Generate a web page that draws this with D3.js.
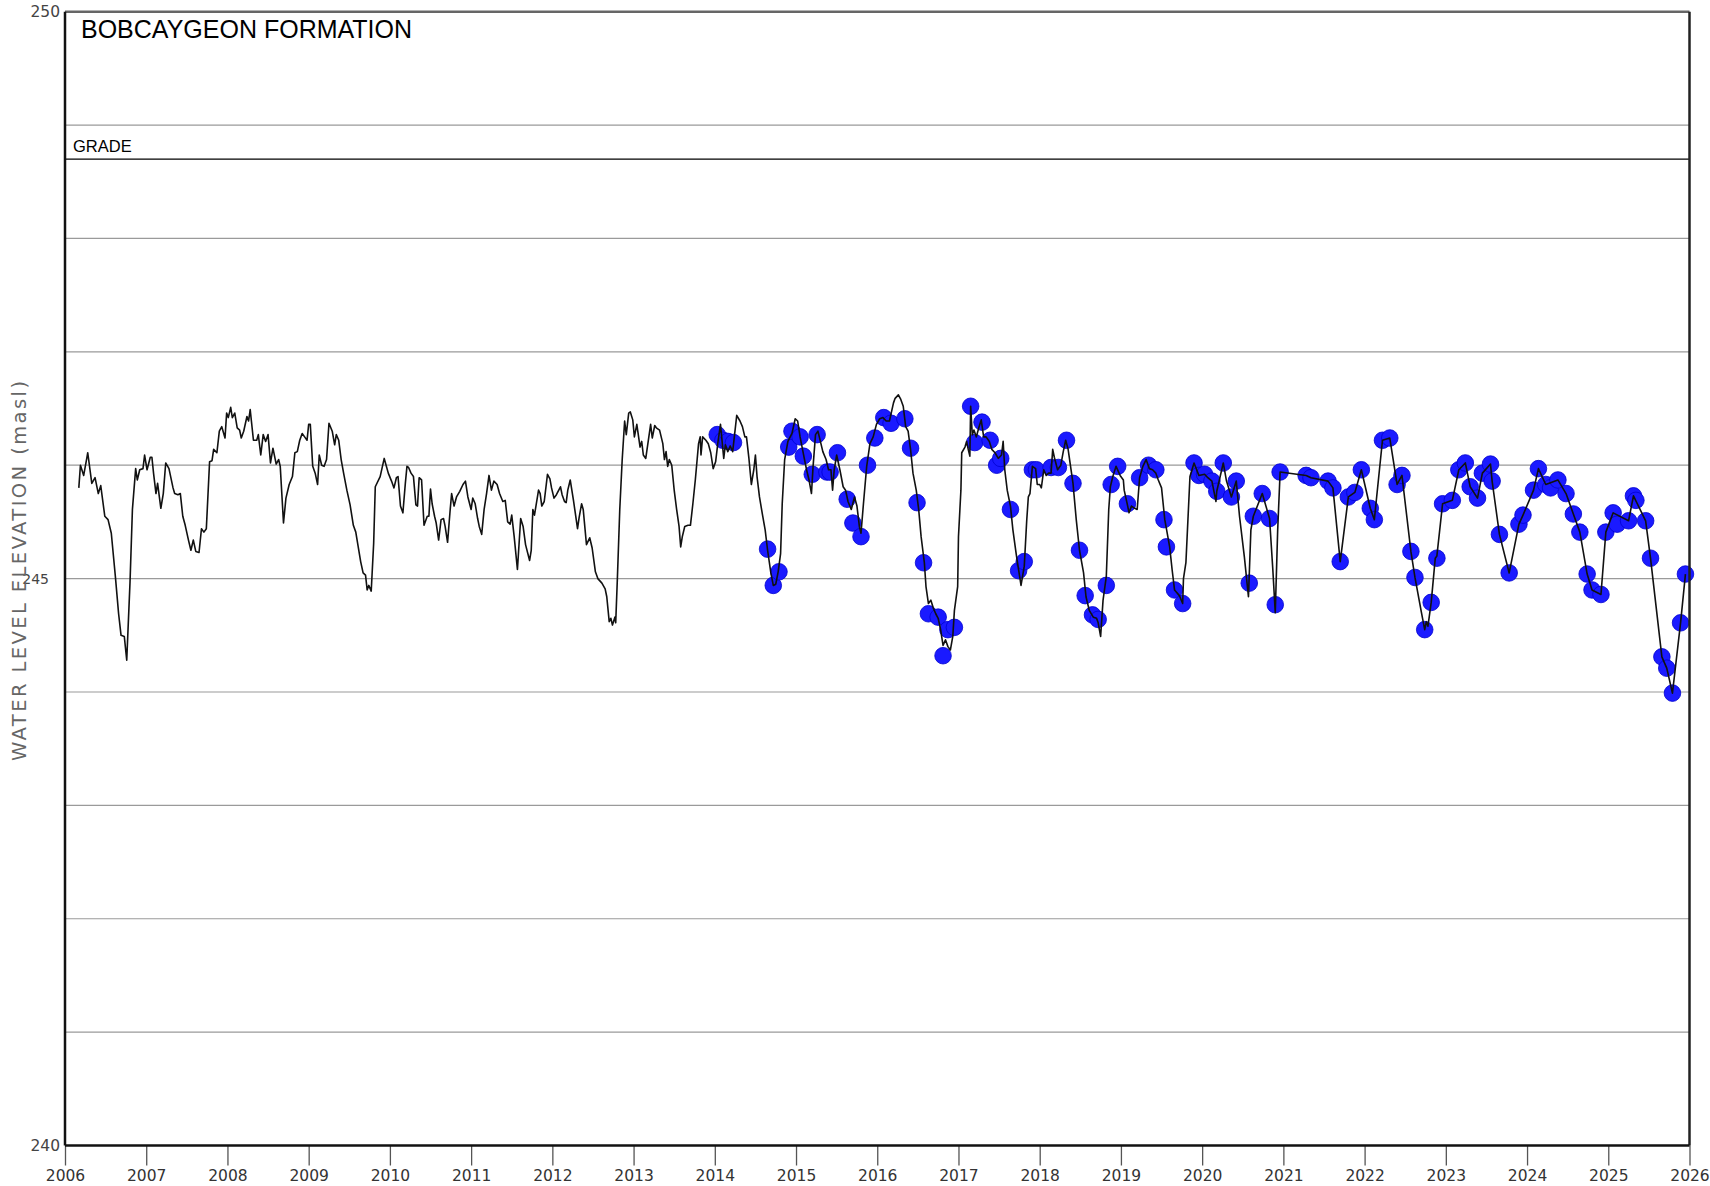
<!DOCTYPE html>
<html>
<head>
<meta charset="utf-8">
<script src="https://cdn.jsdelivr.net/npm/d3@7"></script>
<style>
  body { margin: 0; background: #fff; }
  svg { display: block; }
</style>
</head>
<body>
<script>
// logger record (decimal year, masl)
const logger2006 = [
  [2006.17,245.80],[2006.19,246.00],[2006.23,245.91],[2006.27,246.07],[2006.28,246.11],[2006.33,245.84],[2006.37,245.89],[2006.41,245.75],
  [2006.44,245.82],[2006.49,245.55],[2006.53,245.52],[2006.57,245.40],[2006.62,245.02],[2006.66,244.69],[2006.69,244.50],[2006.73,244.49],
  [2006.76,244.28],[2006.80,244.96],[2006.83,245.61],[2006.87,245.97],[2006.89,245.87],[2006.92,245.96],[2006.96,245.97],[2006.98,246.09],
  [2007.01,245.96],[2007.05,246.07],[2007.07,246.07],[2007.09,245.93],[2007.12,245.75],[2007.14,245.84],[2007.18,245.62],[2007.21,245.75],
  [2007.24,246.02],[2007.28,245.97],[2007.33,245.80],[2007.35,245.75],[2007.39,245.74],[2007.42,245.75],[2007.45,245.55],[2007.48,245.47],
  [2007.52,245.34],[2007.55,245.25],[2007.58,245.34],[2007.61,245.24],[2007.65,245.23],[2007.68,245.44],[2007.71,245.41],[2007.74,245.44],
  [2007.78,246.03],[2007.81,246.04],[2007.83,246.14],[2007.87,246.11],[2007.90,246.30],[2007.93,246.34],[2007.97,246.24],[2007.99,246.46],
  [2008.01,246.42],[2008.04,246.51],[2008.06,246.42],[2008.09,246.46],[2008.12,246.33],[2008.15,246.31],[2008.17,246.24],[2008.20,246.30],
  [2008.24,246.43],[2008.26,246.39],[2008.28,246.49],[2008.32,246.22],[2008.36,246.22],[2008.38,246.27],[2008.41,246.09],[2008.44,246.27],
  [2008.47,246.21],[2008.50,246.27],[2008.53,246.02],[2008.56,246.15],[2008.60,246.01],[2008.63,246.05],[2008.65,245.99],[2008.69,245.49],
  [2008.72,245.71],[2008.76,245.83],[2008.80,245.90],[2008.83,246.11],[2008.86,246.12],[2008.89,246.22],[2008.92,246.28],[2008.95,246.25],
  [2008.98,246.22],[2009.00,246.36],[2009.02,246.36],[2009.05,245.99],[2009.08,245.93],[2009.11,245.83],[2009.13,246.09],[2009.16,246.00],
  [2009.19,245.99],[2009.22,246.05],[2009.25,246.37],[2009.29,246.30],[2009.32,246.18],[2009.34,246.27],[2009.37,246.22]
];

const logger2009 = [
  [2009.40,246.05],[2009.43,245.93],[2009.47,245.78],[2009.51,245.65],[2009.55,245.47],[2009.58,245.41],[2009.61,245.28],[2009.64,245.15],
  [2009.67,245.05],[2009.70,245.03],[2009.72,244.90],[2009.74,244.94],[2009.77,244.89],[2009.80,245.31],[2009.82,245.81],[2009.88,245.90],
  [2009.93,246.06],[2009.98,245.93],[2010.02,245.86],[2010.05,245.80],[2010.08,245.89],[2010.10,245.90],[2010.13,245.64],[2010.16,245.58],
  [2010.19,245.84],[2010.21,245.99],[2010.23,245.98],[2010.26,245.93],[2010.29,245.90],[2010.32,245.65],[2010.34,245.64],[2010.36,245.89],
  [2010.39,245.87],[2010.42,245.47],[2010.46,245.55],[2010.48,245.55],[2010.50,245.79],[2010.52,245.66],[2010.55,245.55],[2010.57,245.49],
  [2010.60,245.34],[2010.63,245.52],[2010.66,245.53],[2010.68,245.46],[2010.71,245.32],[2010.74,245.59],[2010.76,245.75],[2010.79,245.64],
  [2010.82,245.72],[2010.86,245.77],[2010.90,245.83],[2010.93,245.86],[2010.96,245.72],[2011.00,245.61],[2011.02,245.71],[2011.05,245.66],
  [2011.08,245.53],[2011.10,245.46],[2011.13,245.39],[2011.16,245.61],[2011.19,245.75],[2011.22,245.91],[2011.25,245.78],[2011.28,245.86],
  [2011.32,245.83],[2011.35,245.75],[2011.39,245.68],[2011.42,245.69],[2011.45,245.50],[2011.48,245.48],[2011.50,245.56],[2011.53,245.37],
  [2011.57,245.08],[2011.61,245.53],[2011.64,245.46],[2011.67,245.30],[2011.72,245.16],[2011.74,245.25],[2011.76,245.61],[2011.78,245.56],
  [2011.83,245.78],[2011.85,245.75],[2011.87,245.64],[2011.90,245.68],[2011.94,245.92],[2011.97,245.88],[2011.99,245.80],[2012.02,245.71],
  [2012.05,245.74],[2012.10,245.81],[2012.12,245.74],[2012.15,245.68],[2012.17,245.67],[2012.19,245.78],[2012.22,245.87],[2012.26,245.69],
  [2012.28,245.59],[2012.31,245.44],[2012.33,245.54],[2012.36,245.66],[2012.38,245.61],[2012.42,245.30],[2012.46,245.36],[2012.49,245.27],
  [2012.53,245.06],[2012.56,245.00],[2012.61,244.96],[2012.65,244.91],[2012.67,244.84],[2012.70,244.62],[2012.72,244.65],[2012.74,244.59],
  [2012.77,244.66]
];

const logger2012 = [
  [2012.78,244.61],[2012.80,244.99],[2012.83,245.61],[2012.86,246.05],[2012.89,246.39],[2012.91,246.27],[2012.94,246.46],[2012.96,246.47],
  [2012.99,246.40],[2013.01,246.25],[2013.04,246.36],[2013.08,246.16],[2013.10,246.21],[2013.12,246.09],[2013.15,246.06],[2013.18,246.21],
  [2013.21,246.36],[2013.23,246.24],[2013.26,246.35],[2013.28,246.33],[2013.32,246.31],[2013.36,246.19],[2013.38,246.05],[2013.40,246.12],
  [2013.42,245.99],[2013.44,246.05],[2013.47,246.00],[2013.50,245.78],[2013.53,245.61],[2013.56,245.46],[2013.58,245.28],[2013.60,245.37],
  [2013.63,245.46],[2013.67,245.47],[2013.70,245.47],[2013.73,245.66],[2013.76,245.87],[2013.80,246.19],[2013.82,246.25],[2013.83,246.09],
  [2013.85,246.25],[2013.89,246.22],[2013.92,246.19],[2013.95,246.11],[2013.98,245.97],[2014.01,246.03],[2014.04,246.21],[2014.07,246.36],
  [2014.09,246.21],[2014.11,246.06],[2014.13,246.18],[2014.16,246.12],[2014.19,246.17],[2014.22,246.12],[2014.27,246.44],[2014.31,246.39],
  [2014.34,246.34],[2014.37,246.25],[2014.39,246.25],[2014.42,246.06],[2014.45,245.83],[2014.48,245.96],[2014.50,246.09],[2014.52,245.90],
  [2014.55,245.72],[2014.59,245.55],[2014.62,245.43],[2014.65,245.25],[2014.69,245.05],[2014.72,244.94],[2014.75,244.95],[2014.78,245.06],
  [2014.81,245.22],[2014.83,245.66],[2014.86,246.05],[2014.90,246.21],[2014.95,246.28],[2014.99,246.41],[2015.02,246.39],[2015.05,246.25],
  [2015.08,246.14],[2015.11,246.03],[2015.13,245.96],[2015.16,245.87],[2015.19,245.75],[2015.21,245.99],[2015.24,246.27],[2015.27,246.30],
  [2015.30,246.21],[2015.33,246.12],[2015.37,246.05],[2015.40,245.96],[2015.43,245.96],[2015.45,245.78],[2015.47,245.96],[2015.50,246.09],
  [2015.54,245.96],[2015.58,245.81],[2015.61,245.78],[2015.64,245.68],[2015.68,245.61],[2015.72,245.72],[2015.75,245.64],[2015.78,245.46],
  [2015.80,245.40],[2015.83,245.66],[2015.87,245.99],[2015.91,246.19],[2015.95,246.25],[2015.99,246.36],[2016.03,246.41],[2016.07,246.42],
  [2016.11,246.39]
];

const logger2016 = [
  [2016.15,246.39],[2016.20,246.55],[2016.22,246.59],[2016.26,246.62],[2016.29,246.58],[2016.32,246.52],[2016.35,246.34],[2016.38,246.30],
  [2016.41,246.14],[2016.44,245.93],[2016.48,245.78],[2016.51,245.61],[2016.54,245.37],[2016.58,245.14],[2016.60,244.93],[2016.63,244.78],
  [2016.66,244.81],[2016.69,244.74],[2016.72,244.69],[2016.75,244.65],[2016.78,244.55],[2016.81,244.41],[2016.84,244.46],[2016.87,244.40],
  [2016.90,244.37],[2016.93,244.49],[2016.95,244.72],[2016.99,244.93],[2017.00,245.37],[2017.03,245.78],[2017.04,246.11],[2017.08,246.16],
  [2017.10,246.21],[2017.12,246.14],[2017.14,246.08],[2017.15,246.52],[2017.17,246.27],[2017.19,246.31],[2017.22,246.25],[2017.25,246.33],
  [2017.28,246.40],[2017.31,246.25],[2017.34,246.25],[2017.38,246.21],[2017.41,246.14],[2017.45,246.11],[2017.49,246.06],[2017.53,246.09],
  [2017.55,246.21],[2017.57,245.96],[2017.60,245.78],[2017.64,245.64],[2017.67,245.43],[2017.71,245.22],[2017.74,245.08],[2017.77,244.94],
  [2017.81,245.11],[2017.84,245.51],[2017.86,245.72],[2017.88,245.75],[2017.91,245.99],[2017.95,245.97],[2017.97,245.83],[2018.00,245.83],
  [2018.02,245.80],[2018.05,245.96],[2018.08,245.91],[2018.11,245.93],[2018.14,245.93],[2018.16,246.14],[2018.18,246.07],[2018.22,245.96],
  [2018.26,246.00],[2018.29,246.12],[2018.32,246.22],[2018.35,246.14],[2018.38,245.99],[2018.41,245.84],[2018.45,245.52],[2018.49,245.25],
  [2018.54,245.05],[2018.57,244.84],[2018.61,244.72],[2018.66,244.66],[2018.70,244.65],[2018.72,244.61],[2018.75,244.49],[2018.78,244.81],
  [2018.82,245.02],[2018.85,245.61],[2018.87,245.81],[2018.90,245.90],[2018.94,245.99],[2018.99,245.91],[2019.03,245.87],[2019.04,245.78],
  [2019.08,245.65],[2019.10,245.58],[2019.13,245.64],[2019.17,245.62],[2019.20,245.61],[2019.23,245.89],[2019.27,245.99],[2019.31,246.05],
  [2019.35,245.97],[2019.39,245.96],[2019.43,245.93],[2019.46,245.87]
];

const logger2019 = [
  [2019.50,245.80],[2019.54,245.52],[2019.60,245.28],[2019.63,245.08],[2019.66,244.90],[2019.72,244.85],[2019.76,244.78],[2019.77,245.00],
  [2019.80,245.14],[2019.85,245.90],[2019.90,246.02],[2019.96,245.91],[2020.03,245.92],[2020.07,245.89],[2020.12,245.86],[2020.17,245.68],
  [2020.18,245.77],[2020.26,246.02],[2020.30,245.86],[2020.36,245.72],[2020.42,245.86],[2020.46,245.55],[2020.52,245.19],[2020.57,244.84],
  [2020.60,245.43],[2020.63,245.55],[2020.74,245.75],[2020.83,245.53],[2020.87,245.08],[2020.90,244.70],[2020.93,245.43],[2020.96,245.94],
  [2021.28,245.91],[2021.34,245.89],[2021.55,245.86],[2021.61,245.80],[2021.70,245.15],[2021.80,245.72],[2021.88,245.76],[2021.96,245.96],
  [2022.07,245.62],[2022.12,245.52],[2022.22,246.22],[2022.31,246.24],[2022.40,245.83],[2022.46,245.91],[2022.57,245.24],[2022.62,245.01],
  [2022.70,244.70],[2022.74,244.55],[2022.76,244.62],[2022.78,244.58],[2022.82,244.79],[2022.87,245.18],[2022.89,245.20],[2022.96,245.66],
  [2023.08,245.69],[2023.16,245.96],[2023.24,246.02],[2023.30,245.81],[2023.39,245.71],[2023.45,245.93],[2023.55,246.01],[2023.57,245.86],
  [2023.66,245.39],[2023.78,245.05],[2023.90,245.48],[2023.95,245.56],[2024.08,245.78],[2024.14,245.97],[2024.23,245.83],[2024.38,245.87],
  [2024.48,245.75],[2024.57,245.57],[2024.65,245.41],[2024.74,245.04],[2024.80,244.90],[2024.91,244.86],[2024.97,245.41],[2025.06,245.58],
  [2025.25,245.51],[2025.31,245.73],[2025.46,245.51],[2025.52,245.18],[2025.66,244.31],[2025.72,244.21],[2025.79,243.99],[2025.89,244.61],
  [2025.95,245.04]
];

// manual water level measurements (blue dots)
const manualLevels = [
  [2014.03,246.27],[2014.10,246.22],[2014.16,246.21],[2014.23,246.20],[2014.65,245.26],[2014.72,244.94],[2014.79,245.06],[2014.91,246.16],
  [2014.95,246.30],[2015.05,246.25],[2015.09,246.08],[2015.20,245.92],[2015.26,246.27],[2015.38,245.94],[2015.42,245.94],[2015.51,246.11],
  [2015.63,245.70],[2015.70,245.49],[2015.80,245.37],[2015.88,246.00],[2015.97,246.24],[2016.08,246.42],[2016.17,246.37],[2016.34,246.41],
  [2016.41,246.15],[2016.49,245.67],[2016.57,245.14],[2016.63,244.69],[2016.75,244.66],[2016.81,244.32],[2016.87,244.55],[2016.95,244.57],
  [2017.15,246.52],[2017.20,246.20],[2017.29,246.38],[2017.39,246.22],[2017.47,246.00],[2017.52,246.06],[2017.64,245.61],[2017.74,245.07],
  [2017.81,245.15],[2017.91,245.96],[2017.96,245.96],[2018.14,245.98],[2018.23,245.98],[2018.33,246.22],[2018.41,245.84],[2018.49,245.25],
  [2018.56,244.85],[2018.65,244.68],[2018.72,244.64],[2018.82,244.94],[2018.88,245.83],[2018.96,245.99],[2019.08,245.66],[2019.23,245.89],
  [2019.34,246.00],[2019.43,245.96],[2019.53,245.52],[2019.56,245.28],[2019.66,244.90],[2019.76,244.78],[2019.90,246.02],[2019.96,245.91],
  [2020.03,245.92],[2020.12,245.86],[2020.18,245.77],[2020.26,246.02],[2020.36,245.72],[2020.42,245.86],[2020.58,244.96],[2020.63,245.55],
  [2020.74,245.75],[2020.83,245.53],[2020.90,244.77],[2020.96,245.94],[2021.28,245.91],[2021.34,245.89],[2021.55,245.86],[2021.61,245.80],
  [2021.70,245.15],[2021.80,245.72],[2021.88,245.76],[2021.96,245.96],[2022.07,245.62],[2022.12,245.52],[2022.22,246.22],[2022.31,246.24],
  [2022.40,245.83],[2022.46,245.91],[2022.57,245.24],[2022.62,245.01],[2022.74,244.55],[2022.82,244.79],[2022.89,245.18],[2022.96,245.66],
  [2023.08,245.69],[2023.16,245.96],[2023.24,246.02],[2023.30,245.81],[2023.39,245.71],[2023.45,245.93],[2023.55,246.01],[2023.57,245.86],
  [2023.66,245.39],[2023.78,245.05],[2023.90,245.48],[2023.95,245.56],[2024.08,245.78],[2024.14,245.97],[2024.23,245.83],[2024.29,245.80],
  [2024.38,245.87],[2024.48,245.75],[2024.57,245.57],[2024.65,245.41],[2024.74,245.04],[2024.80,244.90],[2024.91,244.86],[2024.97,245.41],
  [2025.06,245.58],[2025.11,245.48],[2025.25,245.51],[2025.31,245.73],[2025.34,245.69],[2025.46,245.51],[2025.52,245.18],[2025.66,244.31],
  [2025.72,244.21],[2025.79,243.99],[2025.89,244.61],[2025.95,245.04]
];

const yearTicks = d3.range(2006, 2027);
const levelLabels = [240, 245, 250];
const gridLevels = d3.range(241, 250);
const gradeLevel = 248.70;

const W = 1710, H = 1186;
const plotLeft = 65, plotRight = 1689.5, plotTop = 11.7, plotBottom = 1145.5;

const x = d3.scaleLinear().domain([2006, 2026]).range([plotLeft, plotRight]);
const y = d3.scaleLinear().domain([240, 250]).range([plotBottom, plotTop]);

const svg = d3.select("body").append("svg")
  .attr("width", W)
  .attr("height", H);

// horizontal grid
svg.append("g")
  .selectAll("line")
  .data(gridLevels)
  .enter()
  .append("line")
  .attr("x1", plotLeft).attr("x2", plotRight)
  .attr("y1", d => y(d)).attr("y2", d => y(d))
  .attr("stroke", "#9a9a9a")
  .attr("stroke-width", 1.2);

// grade line
svg.append("line")
  .attr("x1", plotLeft).attr("x2", plotRight)
  .attr("y1", y(gradeLevel)).attr("y2", y(gradeLevel))
  .attr("stroke", "#000")
  .attr("stroke-width", 1.2);

svg.append("text")
  .attr("x", 73).attr("y", y(gradeLevel) - 7)
  .attr("font-family", "Liberation Sans, Arial, sans-serif")
  .attr("font-size", 16.5)
  .attr("fill", "#000")
  .text("GRADE");

svg.append("text")
  .attr("x", 81).attr("y", 38)
  .attr("font-family", "Liberation Sans, Arial, sans-serif")
  .attr("font-size", 25)
  .attr("fill", "#000")
  .text("BOBCAYGEON FORMATION");

// x axis
const xAxis = d3.axisBottom(x)
  .tickValues(yearTicks)
  .tickFormat(d3.format("d"))
  .tickSize(20)
  .tickPadding(4);

const gx = svg.append("g")
  .attr("transform", "translate(0," + plotBottom + ")")
  .call(xAxis);
gx.select(".domain").remove();
gx.selectAll(".tick line").attr("stroke", "#555").attr("stroke-width", 1.3);
gx.selectAll(".tick text")
  .attr("font-family", "DejaVu Sans, sans-serif")
  .attr("font-size", 15.5)
  .attr("fill", "#333");

// y axis labels
const yAxis = d3.axisLeft(y)
  .tickValues(levelLabels)
  .tickFormat(d3.format("d"))
  .tickSize(0)
  .tickPadding(5);

const gy = svg.append("g")
  .attr("transform", "translate(" + plotLeft + ",0)")
  .call(yAxis);
gy.select(".domain").remove();
gy.selectAll(".tick text")
  .attr("font-family", "DejaVu Sans, sans-serif")
  .attr("font-size", d => d === 245 ? 14 : 15.5)
  .attr("fill", "#444")
  .attr("dx", d => d === 245 ? -11 : 0);

svg.append("text")
  .attr("transform", "translate(26," + 571 + ") rotate(-90)")
  .attr("text-anchor", "middle")
  .attr("font-family", "DejaVu Sans, sans-serif")
  .attr("font-size", 19.5)
  .attr("fill", "#666")
  .attr("textLength", 380)
  .attr("lengthAdjust", "spacing")
  .text("WATER LEVEL ELEVATION (masl)");

// manual measurements
svg.append("g")
  .selectAll("circle")
  .data(manualLevels)
  .enter()
  .append("circle")
  .attr("cx", d => x(d[0]))
  .attr("cy", d => y(d[1]))
  .attr("r", 8.3)
  .attr("fill", "#1a1aff")
  .attr("stroke", "#0000d0")
  .attr("stroke-width", 0.8);

// logger line
const line = d3.line()
  .x(d => x(d[0]))
  .y(d => y(d[1]));

const loggerSeries = [].concat(logger2006, logger2009, logger2012, logger2016, logger2019);

svg.append("path")
  .datum(loggerSeries)
  .attr("d", line)
  .attr("fill", "none")
  .attr("stroke", "#111")
  .attr("stroke-width", 1.6)
  .attr("stroke-linejoin", "round");

// frame
svg.append("line")
  .attr("x1", plotLeft).attr("x2", plotRight).attr("y1", plotTop).attr("y2", plotTop)
  .attr("stroke", "#666").attr("stroke-width", 2.5);
svg.append("line")
  .attr("x1", plotLeft).attr("x2", plotLeft).attr("y1", plotTop).attr("y2", plotBottom)
  .attr("stroke", "#111").attr("stroke-width", 2.5);
svg.append("line")
  .attr("x1", plotRight).attr("x2", plotRight).attr("y1", plotTop).attr("y2", plotBottom)
  .attr("stroke", "#222").attr("stroke-width", 2.5);
svg.append("line")
  .attr("x1", plotLeft).attr("x2", plotRight).attr("y1", plotBottom).attr("y2", plotBottom)
  .attr("stroke", "#111").attr("stroke-width", 2.5);
</script>
</body>
</html>
